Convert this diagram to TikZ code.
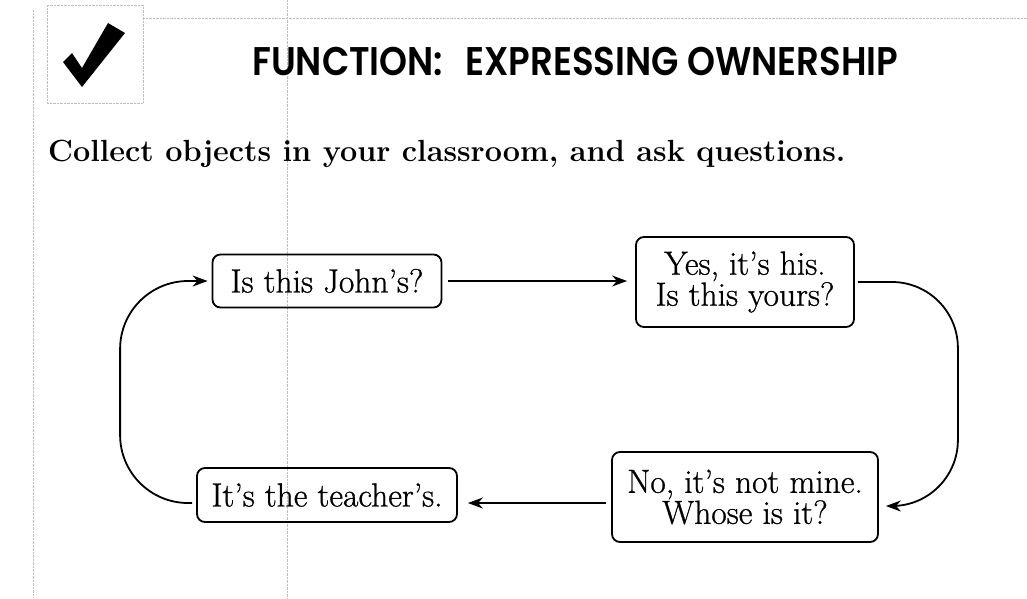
\documentclass[tikz,border=0pt]{standalone}
\usepackage{fontspec}
\usepackage{tikz}
\usetikzlibrary{arrows.meta,positioning,calc}
\newfontfamily\titlefont{Poppins SemiBold}[FakeStretch=0.89]
\newfontfamily\boxfont{Latin Modern Roman}[Ligatures=TeX,FakeBold=0.8]
\definecolor{Scan}{HTML}{BEBEBE}
\tikzset{
  bubble/.style={draw,line width=1.8pt,rounded corners=8pt,align=center,inner sep=0pt,
    font=\boxfont\fontsize{33.5}{30}\selectfont},
  flow/.style={-{Stealth[length=15pt,width=11pt]},line width=1.8pt},
}

\begin{document}
\begin{tikzpicture}[x=1pt,y=-1pt]
  \useasboundingbox (0,0) rectangle (1027,598);
  \draw[Scan,densely dotted] (287,0) -- (287,598);
  \draw[Scan,densely dotted] (143,18) -- (1027,18);
  \draw[Scan,densely dotted] (33,10) -- (33,598);
  \draw[Scan,densely dotted] (47,5) rectangle (143,103);
  \fill (63,62) -- (72,53) -- (82,68) -- (108,23) -- (125,33) -- (82,87) -- cycle;
  \node[anchor=base west,inner sep=0pt,font=\titlefont\fontsize{40}{40}\selectfont] (title) at (252,75) {FUNCTION:\hspace{22pt}EXPRESSING OWNERSHIP};
  \node[anchor=base west,inner sep=0pt,font=\bfseries\fontsize{30.6}{30}\selectfont] (task) at (48,161) {Collect objects in your classroom, and ask questions.};

  \node[bubble,minimum width=229pt,minimum height=53pt] (john) at (327,281) {Is this John's?};
  \node[bubble,minimum width=218pt,minimum height=90pt] (his) at (745,282) {Yes, it's his.\\Is this yours?};
  \node[bubble,minimum width=266pt,minimum height=90pt] (mine) at (745,497) {No, it's not mine.\\Whose is it?};
  \node[bubble,minimum width=260pt,minimum height=54pt] (teacher) at (327,495) {It's the teacher's.};

  \draw[flow,shorten <=6pt,shorten >=8pt] (john.east) -- (john.east -| his.west);
  \draw[flow,rounded corners=66pt] ([xshift=3pt]his.east) -- ++(100,0) |- ([shift={(7pt,-9pt)}]mine.east);
  \draw[flow,shorten <=5pt,shorten >=10pt] ([yshift=-6pt]mine.west) -- ([yshift=-6pt]mine.west -| teacher.east);
  \draw[flow,rounded corners=68pt] ([shift={(-4pt,-8pt)}]teacher.west) -- ++(-72,0) |- ([xshift=-4pt]john.west);
\end{tikzpicture}
\end{document}
